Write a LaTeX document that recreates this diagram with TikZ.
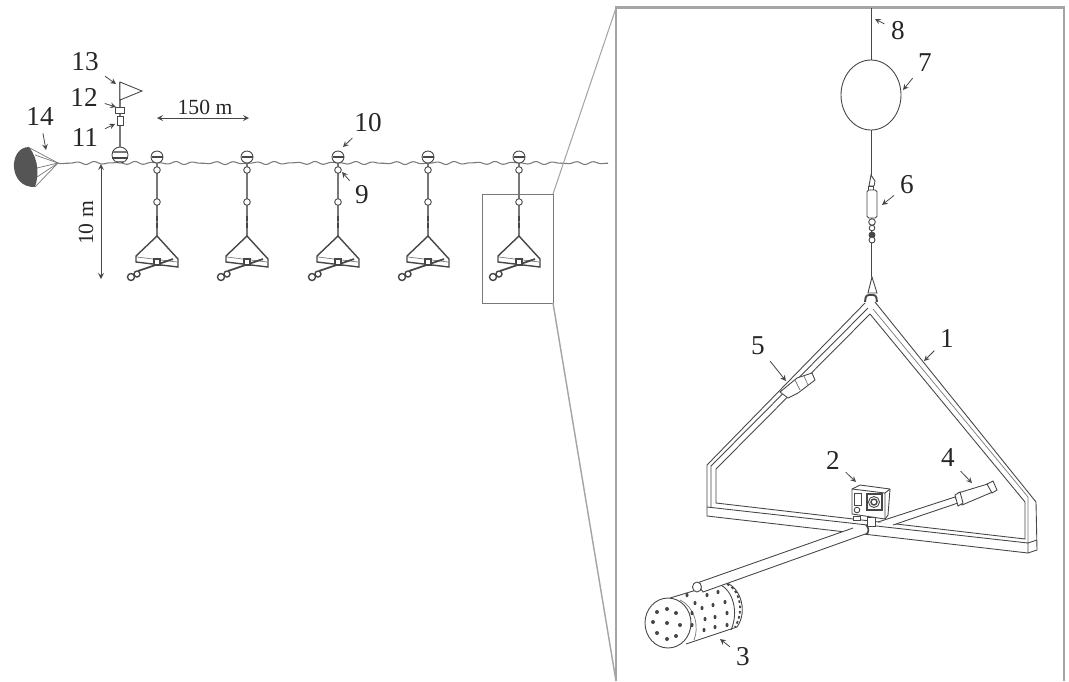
\documentclass[tikz,border=0pt]{standalone}
\usepackage{fontspec}
\setmainfont{Liberation Serif}
\usetikzlibrary{arrows}
\definecolor{rigdark}{RGB}{70,70,70}
\definecolor{riggray}{RGB}{120,120,120}
\definecolor{boxgray}{RGB}{165,165,165}
\definecolor{chutegray}{RGB}{85,85,85}
\tikzset{
  numlabel/.style={font=\fontsize{15.5}{18}\selectfont, text=black!85, inner sep=1pt},
  distlabel/.style={font=\fontsize{12.3}{14}\selectfont, text=black!85, inner sep=0pt},
  leader/.style={->, >=stealth, rigdark, line width=0.45pt, shorten <=3pt},
  rig/.style={rigdark, line width=0.5pt},
  thinrig/.style={riggray, line width=0.4pt},
  smallrig/.style={rigdark, line width=0.8pt},
  hole/.style={fill=rigdark, draw=none}
}
\begin{document}
\begin{tikzpicture}[x=0.02cm, y=-0.02cm]
  \useasboundingbox (0,0) rectangle (1069,681);
  % sea surface and drogue
  \draw[riggray, line width=0.6pt, domain=58:608, samples=500, smooth, variable=\x]
    plot (\x, {163+0.9*sin(\x*18)+0.6*sin(\x*26)});
  \fill[chutegray] (29,147) .. controls (8,147) and (8,188) .. (35,187)
    .. controls (39,175) and (39,160) .. cycle;
  \coordinate (chutetip) at (58,163);
  \foreach \cx/\cy in {28/147,35/155,37/168,37/177,35/187}
    \draw[thinrig] (chutetip) -- (\cx,\cy);
  % marker buoy
  \draw[riggray, line width=1.2pt] (120,82) -- (120,148);
  \draw[rig, fill=white] (120,82) -- (142,91) -- (120,100) -- cycle;
  \node[draw=rigdark, fill=white, line width=0.5pt, minimum width=5.2pt, minimum height=3.4pt, inner sep=0pt] (box12) at (120,110) {};
  \node[draw=rigdark, fill=white, line width=0.5pt, minimum width=3.4pt, minimum height=5.2pt, inner sep=0pt] (box11) at (120,121) {};
  \draw[rig, fill=white] (120,155) circle (8);
  \fill[riggray] (113,151) rectangle (127,153);
  \fill[rigdark] (112,156.5) rectangle (128,158.5);
  \fill[riggray] (115,160.5) rectangle (125,162);
  % the five rigs
  \foreach \ux in {157,247,338,428,519} {
    \begin{scope}[shift={(\ux,0)}]
      \draw[riggray, line width=0.8pt] (0,163) -- (0,236);
      \draw[rig, fill=white] (0,157) circle (6);
      \fill[rigdark] (-5.5,156.2) rectangle (5.5,158.2);
      \draw[rig, fill=white] (0,170) circle (3.3);
      \draw[rig, fill=white] (0,202) circle (3.3);
      \draw[rigdark, line width=1pt, dash pattern=on 3pt off 0.8pt] (0,216) -- (0,229);
      \draw[smallrig] (0,236) -- (-21,256) -- (-21,262) -- (21,267) -- (21,259) -- cycle;
      \draw[thinrig] (-20,257) -- (20,262);
      \draw[smallrig, line width=1pt] (-19,271) -- (16,259);
      \draw[smallrig, fill=white] (-3,259) rectangle (3,265);
      \draw[smallrig, fill=white] (-20,274) circle (3);
      \draw[smallrig, fill=white] (-26,277) circle (3.5);
    \end{scope}
  }
  % distances
  \node[distlabel] (dist150) at (205,107) {150 m};
  \coordinate (distl) at (157,118);
  \coordinate (distr) at (249,118);
  \draw[<->, >=stealth, rigdark, line width=0.5pt] (distl) -- (distr);
  \node[distlabel, rotate=90] (dist10) at (86,223) {10 m};
  \coordinate (deptht) at (101,164);
  \coordinate (depthb) at (101,279);
  \draw[<->, >=stealth, rigdark, line width=0.5pt] (deptht) -- (depthb);
  % zoom box and frame
  \draw[riggray, line width=0.45pt] (482.4,194.4) rectangle (553.4,303.4);
  \draw[boxgray, line width=0.6pt] (553,194) -- (616,8);
  \draw[boxgray, line width=0.8pt] (553,303) -- (616,681);
  \draw[boxgray, line width=1.4pt] (616,681) -- (616,7.5) -- (1064,7.5) -- (1064,681);
  % line, float and swivel
  \draw[rig] (871,8) -- (871,277);
  \draw[rig, fill=white] (871,95) ellipse (30 and 35);
  \draw[rig, fill=white] (871,175) -- (875,181) -- (874,186) -- (869,186) -- cycle;
  \draw[rig, fill=white] (868,186) rectangle (873,191);
  \draw[rig, fill=white, rounded corners=1pt] (867,190) rectangle (877,218);
  \draw[rig, fill=white] (872,222) circle (3.3);
  \draw[rig, fill=white] (872,228) circle (2.8);
  \draw[rig, fill=rigdark] (872,235) circle (3);
  \draw[rig, fill=white] (872,240) circle (3);
  \draw[rig, fill=white] (872,277) -- (868,293) -- (877,293) -- cycle;
  % triangular frame
  \draw[rig, line join=round] (865,303) -- (707,465) -- (707,516) -- (1028,553) -- (1037,550) -- (1036,502) -- (875,302);
  \draw[rig] (868,308) -- (711,466) -- (711,507);
  \draw[rig] (870,314) -- (716,469) -- (716,503) -- (1025,539) -- (1025,502) -- (870,314);
  \draw[thinrig] (873,309) -- (1028,497) -- (1028,543);
  \draw[rig] (707,507) -- (1028,543) -- (1028,553);
  \draw[rig] (1028,543) -- (1037,540);
  \draw[rigdark, line width=1.1pt, rounded corners=1.5pt] (865,302) -- (866,295) -- (876,295) -- (877,302);
  % bracket on the arm
  \draw[rig, fill=white, line join=round] (780,392) -- (797,378) -- (812,373) -- (815,380)
    -- (798,393) -- (788,398) -- cycle;
  \draw[thinrig] (795,380) -- (800,390);
  \draw[thinrig] (804,376) -- (808,385);
  % trap
  \draw[rig, fill=white] (670,598) -- (723,582) .. controls (739,584) and (749,610) .. (737,627)
    -- (686,644);
  \draw[rig] (719,584) .. controls (733,590) and (739,612) .. (731,630);
  \draw[rigdark, line width=1pt, dash pattern=on 1.5pt off 1.5pt] (727,584) .. controls (739,589) and (745,610) .. (735,627);
  \draw[rig, fill=white] (668,623) ellipse (23 and 25);
  \draw[thinrig] (680,600) .. controls (696,608) and (699,628) .. (694,640);
  \foreach \hx/\hy in {657/612,667/609,676/613,653/622,667/623,680/625,657/633,667/639,676/636}
    \fill[hole] (\hx,\hy) circle (2);
  \foreach \hx/\hy in {687/595,707/595,718/592,695/603,713/605,725/602,702/608,715/617,727/613,705/619,692/613,704/630,715/627,727/625,692/625}
    \fill[hole] (\hx,\hy) ellipse (1.5 and 2.2);
  % rods
  \draw[rig, fill=white] (853,528) -- (697,583) -- (703,592) -- (868,533);
  \draw[rig, fill=white] (697,587) ellipse (4.5 and 5);
  \draw[rig, fill=white] (878,522) -- (955,497) -- (958,503) -- (893,525);
  \draw[rig, fill=white] (958,493) -- (991,483) -- (995,491) -- (962,505) -- cycle;
  \draw[rig, fill=white] (955,495) -- (960,492) -- (963,503) -- (958,506) -- cycle;
  \draw[rig, fill=white] (987,484) -- (993,481) -- (997,490) -- (992,493) -- cycle;
  \draw[rigdark, line width=0.9pt] (866,525) .. controls (869,528) and (869,531) .. (867,534);
  % camera
  \draw[rig, fill=white] (867,517) rectangle (875,526);
  \draw[rig, fill=white] (853,516) rectangle (860,520);
  \draw[rig, fill=white, line join=round] (852,489) -- (860,485) -- (890,489) -- (888,515) -- (885,519)
    -- (852,514) -- cycle;
  \draw[rig] (852,489) -- (885,493) -- (885,519);
  \draw[rig] (885,493) -- (890,489);
  \draw[rig] (854,493) rectangle (861,505);
  \draw[rig] (857,510) circle (2.8);
  \draw[rigdark, line width=0.8pt] (867,494) rectangle (882,510);
  \draw[rig] (874,502) circle (5.5);
  \draw[rigdark, line width=0.8pt] (874,502) circle (3);
  % numbers
  \foreach \lab/\lx/\ly/\tx/\ty in {1/947/338/924/361, 2/833/460/856/482, 3/743/657/720/639,
      4/948/458/972/483, 5/758/346/786/381, 6/907/185/882/205, 7/925/63/903/90, 8/898/31/875/19,
      9/362/195/342/172, 10/368/123/343/147, 11/85/138/115/124, 12/84/97/116/107, 13/85/62/116/84, 14/40/117/46/150} {
    \node[numlabel] (lab\lab) at (\lx,\ly) {\lab};
    \coordinate (tip\lab) at (\tx,\ty);
    \draw[leader] (lab\lab) -- (tip\lab);
  }
\end{tikzpicture}
\end{document}
